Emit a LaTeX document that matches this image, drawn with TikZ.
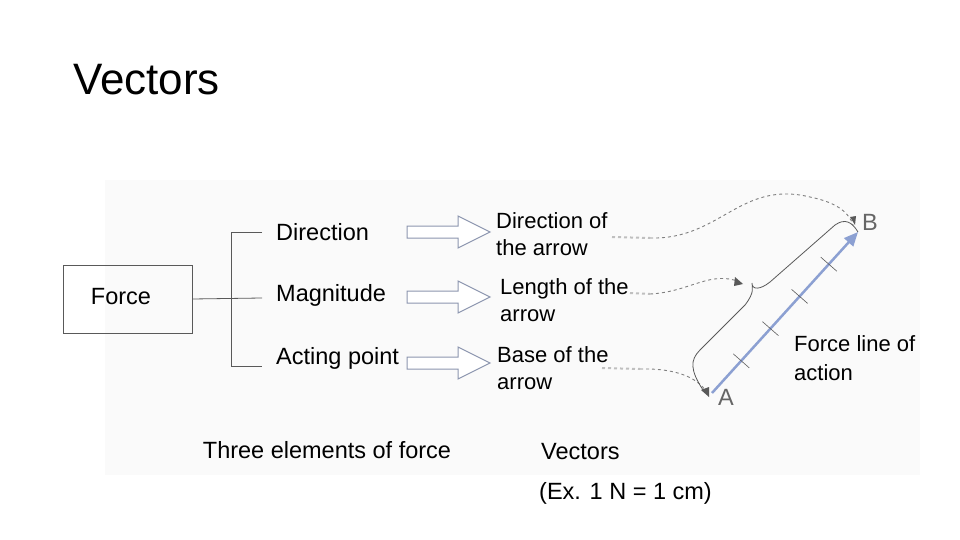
\documentclass[tikz,border=0pt]{standalone}
\usepackage{fontspec}
\setmainfont{Liberation Sans}
\usetikzlibrary{arrows.meta,calc}
\definecolor{vecblue}{RGB}{140,160,210}
\definecolor{blkcol}{RGB}{140,150,175}
\begin{document}
\begin{tikzpicture}[x=1pt,y=-1pt,
  txt/.style={font=\fontsize{23.5}{28}\selectfont,inner sep=0pt},
  lft/.style={txt,anchor=west,align=left},
  conn/.style={draw=gray!70!black,line width=0.8pt},
  blk/.style={draw=blkcol,line width=1pt,fill=white},
  dsh/.style={draw=gray,dashed,line width=0.9pt},
  dsh2/.style={draw=gray!50,dashed,line width=2pt}]
\useasboundingbox (0,0) rectangle (960,540);
\fill[gray!4] (105,180) rectangle (920,475);
\node[anchor=west,font=\fontsize{44}{52}\selectfont,inner sep=0pt] (title) at (73,80) {Vectors};
\node[conn,minimum width=129pt,minimum height=68pt,inner sep=0pt] (force) at (127.5,299) {};
\node[txt] (ft) at (121,297) {Force};
\coordinate (j) at (231,298);
\coordinate (jt) at (231,232);
\coordinate (jb) at (231,366);
\draw[conn] (force.east) -- (262,298);
\draw[conn] (262,232) -- (jt) -- (jb) -- (262,366);
\node[lft] (d) at (276,232) {Direction};
\node[lft] (m) at (276,295) {Magnitude};
\node[lft] (a) at (276,358) {Acting point};
\foreach \y/\n in {232/b1,297/b2,363/b3}{
  \draw[blk] (407,\y-6) -- (458,\y-6) -- (458,\y-16) -- (490,\y) -- (458,\y+16) -- (458,\y+6) -- (407,\y+6) -- cycle;
}
\node[lft,font=\fontsize{22}{27}\selectfont] (r1) at (496,234) {Direction of\\the arrow};
\node[lft,font=\fontsize{22}{27}\selectfont] (r2) at (500,300) {Length of the\\arrow};
\node[lft,font=\fontsize{22}{27}\selectfont] (r3) at (497,368) {Base of the\\arrow};
\coordinate (A) at (712,393);
\coordinate (B) at (858,232);
% dashed
\draw[dsh2] (612,237) -- (650,238);
\draw[dsh] (650,238) .. controls (720,240) and (740,180) .. (810,197) .. controls (840,203) and (850,215) .. (853,225);
\draw[dsh2] (630,293) -- (650,294);
\draw[dsh] (650,294) .. controls (690,292) and (710,270) .. (740,282);
\fill[gray!70!black] (743,284) -- (735,277) -- (734,286) -- cycle;
\draw[dsh2] (602,368) -- (640,369);
\draw[dsh] (640,369) .. controls (680,368) and (700,380) .. (707,393);
\fill[gray!70!black] (709,397) -- (701,390) -- (709,387) -- cycle;
\fill[gray!70!black] (855,225) -- (850,217) -- (856,216) -- cycle;
% brace line
\draw[gray!70!black,line width=0.8pt] (703,390) .. controls (690,370) and (690,360) .. (700,350) -- (745,305)
  .. controls (755,292) and (752,288) .. (752,283) .. controls (752,290) and (760,290) .. (770,282) -- (835,225)
  .. controls (845,218) and (852,222) .. (858,232);
% vector
\draw[vecblue,line width=2.5pt,-{Triangle[length=14pt,width=12pt]}] (A) -- (B);
\foreach \t in {0.2,0.4,0.6,0.8}{
  \path (A) -- (B) coordinate[pos=\t] (tk);
  \draw[gray!70!black,line width=0.6pt] ($(tk)+(-8,-7)$) -- ($(tk)+(8,7)$);
}
\node[txt,text=gray!80!black,anchor=west] (al) at (718,397) {A};
\node[txt,text=gray!80!black,anchor=west] (bl) at (862,222) {B};
\node[lft,font=\fontsize{22}{29}\selectfont] (fl) at (794,358) {Force line of\\action};
\node[txt] (three) at (327,450) {Three elements of force};
\node[lft] (v) at (541,452) {Vectors};
\node[lft] (ex) at (539,493) {(Ex. 1 N = 1 cm)};
\end{tikzpicture}
\end{document}
